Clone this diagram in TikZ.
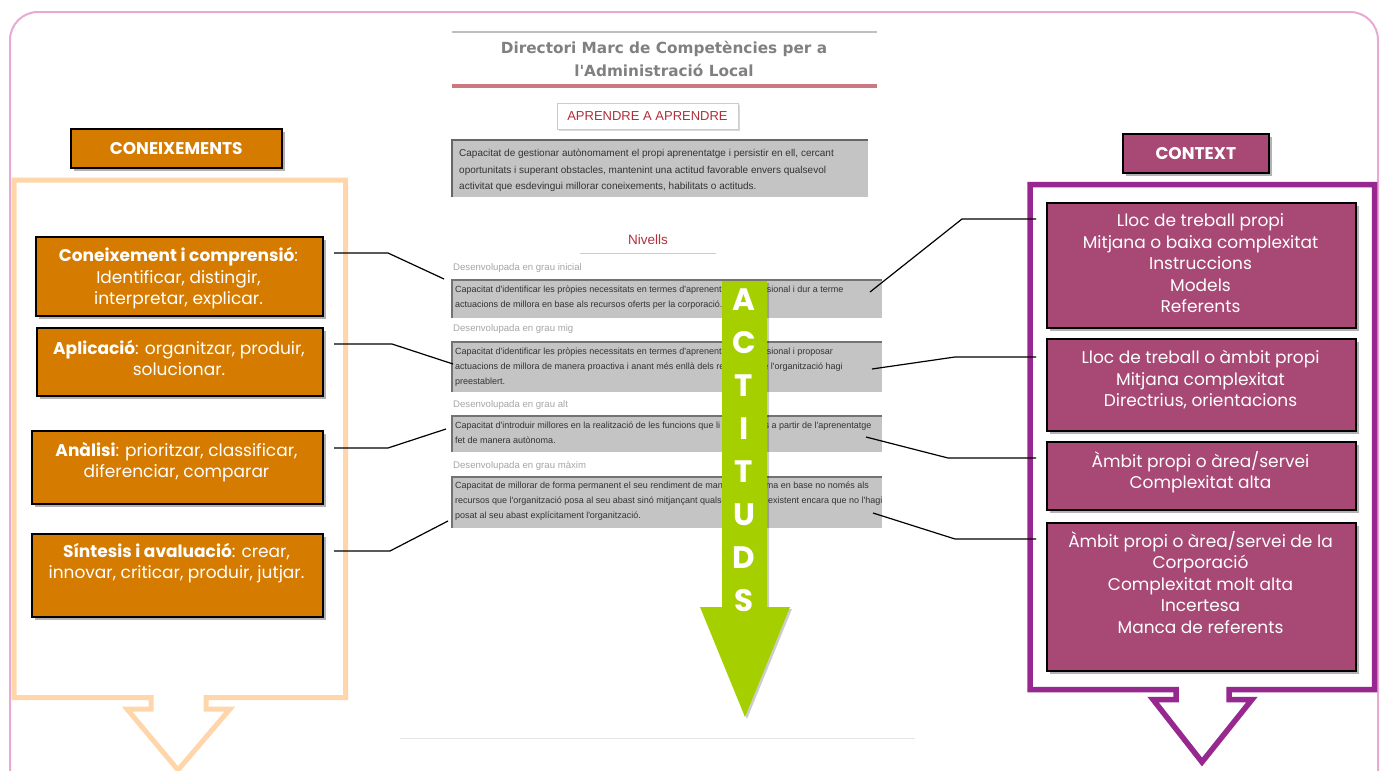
\documentclass[tikz,border=0pt]{standalone}
\usepackage{fontspec}
\setmainfont{Poppins}
\newfontfamily\docfont{DejaVu Sans}
\newfontfamily\smallfont{Liberation Sans}
\usetikzlibrary{shadows}
\definecolor{korange}{RGB}{213,123,0}
\definecolor{kpeach}{RGB}{255,214,170}
\definecolor{cctx}{RGB}{168,72,116}
\definecolor{cpurple}{RGB}{150,40,143}
\definecolor{opink}{RGB}{232,170,210}
\definecolor{agreen}{RGB}{166,207,0}
\definecolor{docred}{RGB}{176,48,60}
\definecolor{docgray}{RGB}{196,196,196}
\tikzset{
  shbox/.style={draw=black, line width=1.6pt, anchor=north west, inner sep=0pt,
    drop shadow={shadow xshift=3pt, shadow yshift=-3pt, opacity=0.3, fill=black}},
  kbox/.style={shbox, fill=korange},
  cbox/.style={shbox, fill=cctx},
  btxt/.style={text=white, align=center, inner sep=0pt, anchor=north,
    font=\fontsize{17}{21.5}\selectfont},
  htxt/.style={text=white, inner sep=0pt, font=\bfseries\fontsize{17}{20}\selectfont},
  conn/.style={draw=black, line width=1.2pt},
  lvlbox/.style={fill=docgray, anchor=north west, inner sep=0pt},
  lvltxt/.style={anchor=north west, inner sep=0pt, align=left, text=black!80,
    font=\smallfont\fontsize{9}{14.6}\selectfont},
  lvllab/.style={anchor=west, inner sep=0pt, text=black!35,
    font=\smallfont\fontsize{9.6}{11}\selectfont},
}
\begin{document}
\begin{tikzpicture}[x=1pt,y=-1pt]
\useasboundingbox (0,0) rectangle (1385,771);
\fill[white] (0,0) rectangle (1385,771);
\begin{scope}
\clip (0,0) rectangle (1385,771);
\draw[opink, line width=2pt, rounded corners=28pt] (10,12) rectangle (1378,800);
% left callout
\draw[kpeach, line width=5pt, line join=miter]
  (14,180) -- (345.5,180) -- (345.5,697.5) -- (206,697.5) -- (206,709) -- (230,709)
  -- (178,770) -- (127,709) -- (151,709) -- (151,697.5) -- (14,697.5) -- cycle;
% right callout
\draw[cpurple, line width=5.5pt, line join=miter]
  (1030,184.5) -- (1374.5,184.5) -- (1374.5,689.5) -- (1229,689.5) -- (1229,699.5) -- (1252,699.5)
  -- (1202,762) -- (1153,699.5) -- (1176,699.5) -- (1176,689.5) -- (1030,689.5) -- cycle;
\end{scope}

% ---------------- central document ----------------
\draw[black!25, line width=2pt] (452,32) -- (877,32);
\node[inner sep=0pt, align=center, text=black!50, font=\docfont\bfseries\fontsize{15.3}{23}\selectfont]
  (title) at (664,59) {Directori Marc de Competències per a\\l'Administració Local};
\draw[docred!65, line width=4pt] (452,86) -- (877,86);
\node[draw=black!20, line width=1pt, fill=white, minimum width=181pt, minimum height=26pt,
  drop shadow={shadow xshift=2pt, shadow yshift=-2pt, opacity=0.15, fill=black},
  text=docred, font=\smallfont\fontsize{13}{15}\selectfont] (apr) at (647.5,116) {APRENDRE A APRENDRE};
\node[lvlbox, minimum width=416pt, minimum height=57pt] (def) at (452,140) {};
\draw[black!60, line width=2pt] (def.south west) -- (def.north west) -- (def.north east);
\node[anchor=north west, inner sep=0pt, align=left, text=black!80,
  font=\smallfont\fontsize{10}{16.5}\selectfont] (deftxt) at (459,149)
  {Capacitat de gestionar autònomament el propi aprenentatge i persistir en ell, cercant\\
   oportunitats i superant obstacles, mantenint una actitud favorable envers qualsevol\\
   activitat que esdevingui millorar coneixements, habilitats o actituds.};
\node[inner sep=0pt, text=docred, font=\smallfont\fontsize{13.5}{16}\selectfont] (niv) at (648,240) {Nivells};
\draw[black!20, line width=1pt] (580,253) -- (716,253);

\node[lvllab] (lab1) at (453,268) {Desenvolupada en grau inicial};
\node[lvllab] (lab2) at (453,329) {Desenvolupada en grau mig};
\node[lvllab] (lab3) at (453,405) {Desenvolupada en grau alt};
\node[lvllab] (lab4) at (453,466) {Desenvolupada en grau màxim};

\node[lvlbox, minimum width=430pt, minimum height=38pt] (lv1) at (452,280) {};
\node[lvlbox, minimum width=430pt, minimum height=50pt] (lv2) at (452,342) {};
\node[lvlbox, minimum width=430pt, minimum height=36pt] (lv3) at (452,416) {};
\node[lvlbox, minimum width=430pt, minimum height=51pt] (lv4) at (452,477) {};
\foreach \n in {lv1,lv2,lv3,lv4}
  \draw[black!55, line width=1.8pt] (\n.south west) -- (\n.north west) -- (\n.north east);
\node[lvltxt] (t1) at (455,286) {Capacitat d'identificar les pròpies necessitats en termes d'aprenentatge professional i dur a terme\\actuacions de millora en base als recursos oferts per la corporació.};
\node[lvltxt] (t2) at (455,348) {Capacitat d'identificar les pròpies necessitats en termes d'aprenentatge professional i proposar\\actuacions de millora de manera proactiva i anant més enllà dels recursos que l'organització hagi\\preestablert.};
\node[lvltxt] (t3) at (455,422) {Capacitat d'introduir millores en la realització de les funcions que li són pròpies a partir de l'aprenentatge\\fet de manera autònoma.};
\node[lvltxt] (t4) at (455,482) {Capacitat de millorar de forma permanent el seu rendiment de manera autònoma en base no només als\\recursos que l'organització posa al seu abast sinó mitjançant qualsevol recurs existent encara que no l'hagi\\posat al seu abast explícitament l'organització.};
\draw[black!10, line width=1pt] (400,738) -- (915,738);

% ---------------- ACTITUDS arrow ----------------
\fill[agreen, drop shadow={shadow xshift=2pt, shadow yshift=-2pt, opacity=0.2, fill=black}]
  (722,281) -- (767,281) -- (767,607) -- (790,607) -- (745,717) -- (700,607) -- (722,607) -- cycle;
\node[inner sep=0pt, align=center, text=white, anchor=north, font=\bfseries\fontsize{31}{43}\selectfont]
  (act) at (744,289) {A\\C\\T\\I\\T\\U\\D\\S};

% ---------------- left side ----------------
\node[kbox, minimum width=211pt, minimum height=39pt] (hk) at (70,128) {};
\node[htxt] (hkt) at (hk.center) {CONEIXEMENTS};

\node[kbox, minimum width=287pt, minimum height=79pt] (k1) at (35,236) {};
\node[kbox, minimum width=286pt, minimum height=68pt] (k2) at (36,327) {};
\node[kbox, minimum width=291pt, minimum height=73pt] (k3) at (31,430) {};
\node[kbox, minimum width=291pt, minimum height=83pt] (k4) at (31,533) {};
\node[btxt] (k1t) at (178.5,247.5) {\textbf{Coneixement i comprensió}: \\Identificar, distingir,\\interpretar, explicar.};
\node[btxt] (k2t) at (179,340) {\textbf{Aplicació}: organitzar, produir,\\solucionar.};
\node[btxt] (k3t) at (176.5,442) {\textbf{Anàlisi}: prioritzar, classificar,\\diferenciar, comparar};
\node[btxt] (k4t) at (176.5,543) {\textbf{Síntesis i avaluació}: crear,\\innovar, criticar, produir, jutjar.};

% ---------------- right side ----------------
\node[cbox, minimum width=146pt, minimum height=39pt] (hc) at (1122,133) {};
\node[htxt] (hct) at (hc.center) {CONTEXT};

\node[cbox, minimum width=309pt, minimum height=125pt] (c1) at (1046,202) {};
\node[cbox, minimum width=309pt, minimum height=92pt] (c2) at (1046,338) {};
\node[cbox, minimum width=309pt, minimum height=68pt] (c3) at (1046,441) {};
\node[cbox, minimum width=309pt, minimum height=148pt] (c4) at (1046,522) {};
\node[btxt] (c1t) at (1200.5,213.5) {Lloc de treball propi\\Mitjana o baixa complexitat\\Instruccions\\Models\\Referents};
\node[btxt] (c2t) at (1200.5,350.5) {Lloc de treball o àmbit propi\\Mitjana complexitat\\Directrius, orientacions};
\node[btxt] (c3t) at (1200.5,451) {Àmbit propi o àrea/servei\\Complexitat alta};
\node[btxt] (c4t) at (1200.5,531) {Àmbit propi o àrea/servei de la\\Corporació\\Complexitat molt alta\\Incertesa\\Manca de referents};

% ---------------- connectors ----------------
\coordinate (ls1) at (334,253); \coordinate (lb1) at (388,253); \coordinate (le1) at (444,279);
\coordinate (ls2) at (334,344); \coordinate (lb2) at (392,344); \coordinate (le2) at (453,364);
\coordinate (ls3) at (334,448); \coordinate (lb3) at (388,448); \coordinate (le3) at (446,429);
\coordinate (ls4) at (334,551); \coordinate (lb4) at (390,551); \coordinate (le4) at (448,521);
\coordinate (rs1) at (1036,219); \coordinate (rb1) at (962,219); \coordinate (re1) at (870,292);
\coordinate (rs2) at (1036,357); \coordinate (rb2) at (955,357); \coordinate (re2) at (872,369);
\coordinate (rs3) at (1036,458); \coordinate (rb3) at (948,458); \coordinate (re3) at (866,437);
\coordinate (rs4) at (1036,539); \coordinate (rb4) at (955,539); \coordinate (re4) at (873,513);
\foreach \i in {1,2,3,4} {
  \draw[conn] (ls\i) -- (lb\i) -- (le\i);
  \draw[conn] (rs\i) -- (rb\i) -- (re\i);
}
\end{tikzpicture}
\end{document}
